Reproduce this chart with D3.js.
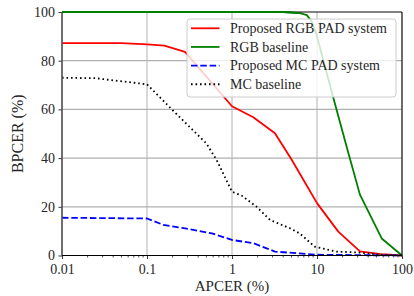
<!DOCTYPE html>
<html><head><meta charset="utf-8">
<script src="https://cdn.jsdelivr.net/npm/d3@7"></script>
<style>body{margin:0;background:#fff}svg{display:block}</style>
</head><body><svg id="c" width="414" height="296"></svg>
<script>
const seriesNames = ["Proposed RGB PAD system","RGB baseline","Proposed MC PAD system","MC baseline"];
const seriesColors = ["#ff0000","#008000","#0000ff","#000000"];
const seriesDash = [null,null,"6.5,2.8","1.6,2.9"];
const rgbProposedX = [0.01,0.05,0.1,0.16,0.28,1,1.78,3.2,5,10,17.8,32,56,100];
const rgbProposedY = [87.2,87.2,86.7,86.2,83.6,61.3,56.8,50.2,39.5,21.5,9.8,1.7,0.6,0];
const rgbBaselineX = [0.01,4,6.3,7.6,8.7,9.9,15.5,23,32,57.7,100];
const rgbBaselineY = [100,100,99.5,98.7,96,90.5,65,43,25,7,0];
const mcProposedX = [0.01,0.1,0.155,0.27,0.58,1,1.8,3.2,10,100];
const mcProposedY = [15.5,15.2,12.6,11.2,9.1,6.4,5.0,1.6,0.3,0];
const mcBaselineX = [0.01,0.025,0.1,0.2,0.5,0.66,1,1.3,1.95,2.8,4.8,6.3,9.4,16.9,32,56,100];
const mcBaselineY = [73,72.8,70.3,59.7,46,39.2,26.2,24.6,20,14.6,11.2,9,3.6,1.6,1.2,0.4,0];
const xTicks = [0.01,0.1,1,10,100];
const xTickLabels = ["0.01","0.1","1","10","100"];
const yTicks = [0,20,40,60,80,100];
const xLabel = "APCER (%)", yLabel = "BPCER (%)";

const seriesX = [rgbProposedX,rgbBaselineX,mcProposedX,mcBaselineX];
const seriesY = [rgbProposedY,rgbBaselineY,mcProposedY,mcBaselineY];
const FONT = '"Liberation Serif"';

const svg = d3.select("#c");
const L=62,R=402,T=12,B=255.5;
const x = d3.scaleLog().domain([0.01,100]).range([L,R]);
const y = d3.scaleLinear().domain([0,100]).range([B,T]);

// grid
const g = svg.append("g");
g.selectAll(".gx").data(xTicks).join("line").attr("x1",d=>x(d)).attr("x2",d=>x(d)).attr("y1",T).attr("y2",B)
 .attr("stroke","#b0b0b0").attr("stroke-width",1);
g.selectAll(".gy").data(yTicks).join("line").attr("y1",d=>y(d)).attr("y2",d=>y(d)).attr("x1",L).attr("x2",R)
 .attr("stroke","#b0b0b0").attr("stroke-width",1.2);

// minor ticks
const minor=[];
for(let e=-2;e<2;e++) for(let k=2;k<10;k++) minor.push(k*Math.pow(10,e));
svg.append("g").selectAll("line").data(minor).join("line").attr("x1",d=>x(d)).attr("x2",d=>x(d)).attr("y1",B).attr("y2",B+2)
 .attr("stroke","#000").attr("stroke-width",0.7);

// axes
const xa = svg.append("g").attr("transform",`translate(0,${B})`)
 .call(d3.axisBottom(x).tickValues(xTicks).tickFormat((d,i)=>xTickLabels[i]).tickSize(3.5).tickPadding(5).tickSizeOuter(0));
const ya = svg.append("g").attr("transform",`translate(${L},0)`)
 .call(d3.axisLeft(y).tickValues(yTicks).tickSize(3.5).tickPadding(3.5).tickSizeOuter(0));
[xa,ya].forEach(a=>{a.attr("font-family",null).attr("font-size",null);a.select(".domain").remove();
  a.selectAll("text").style("font-size","14px").style("font-family",FONT).attr("fill","#262626");
  a.selectAll(".tick line").attr("stroke","#000").attr("stroke-width",0.8);});

// series
const line = d3.line().x(d=>x(d[0])).y(d=>y(d[1]));
seriesX.forEach((xs,i)=>{
  const pts = xs.map((v,j)=>[v,seriesY[i][j]]);
  svg.append("path").attr("d",line(pts)).attr("fill","none").attr("stroke",seriesColors[i]).attr("stroke-width",1.8)
   .attr("stroke-dasharray",seriesDash[i]).attr("stroke-linejoin","round");
});

// spines
svg.append("line").attr("x1",L).attr("x2",L).attr("y1",T).attr("y2",B).attr("stroke","#555").attr("stroke-width",1.6);
svg.append("line").attr("x1",L).attr("x2",R).attr("y1",B).attr("y2",B).attr("stroke","#000").attr("stroke-width",1);
svg.append("line").attr("x1",R).attr("x2",R).attr("y1",T).attr("y2",B).attr("stroke","#000").attr("stroke-width",1);
svg.append("line").attr("x1",L).attr("x2",R).attr("y1",T).attr("y2",T).attr("stroke","#000").attr("stroke-width",0.8);
{
  const pts = seriesX[1].map((v,j)=>[v,seriesY[1][j]]).slice(0,3);
  svg.append("path").attr("d",line(pts)).attr("fill","none").attr("stroke",seriesColors[1]).attr("stroke-width",1.8);
}

// legend
const lg = svg.append("g");
lg.append("rect").attr("x",187).attr("y",19).attr("width",209).attr("height",78).attr("rx",3)
 .attr("fill","rgba(255,255,255,0.8)").attr("stroke","#cccccc").attr("stroke-width",1);
seriesNames.forEach((n,i)=>{
  const yy = 28.3 + i*18.65;
  lg.append("line").attr("x1",191).attr("x2",219.5).attr("y1",yy).attr("y2",yy).attr("stroke",seriesColors[i])
    .attr("stroke-width",1.8).attr("stroke-dasharray",seriesDash[i]);
  lg.append("text").attr("x",230).attr("y",yy+4.8).style("font-family",FONT).style("font-size","14px").attr("fill","#262626").text(n);
});

// axis labels
svg.append("text").attr("x",(L+R)/2).attr("y",291).attr("text-anchor","middle").style("font-family",FONT).style("font-size","15px").attr("fill","#262626").text(xLabel);
svg.append("text").attr("transform",`translate(23,${(T+B)/2}) rotate(-90)`).attr("text-anchor","middle").style("font-family",FONT).style("font-size","16px").attr("fill","#262626").text(yLabel);
</script></body></html>
